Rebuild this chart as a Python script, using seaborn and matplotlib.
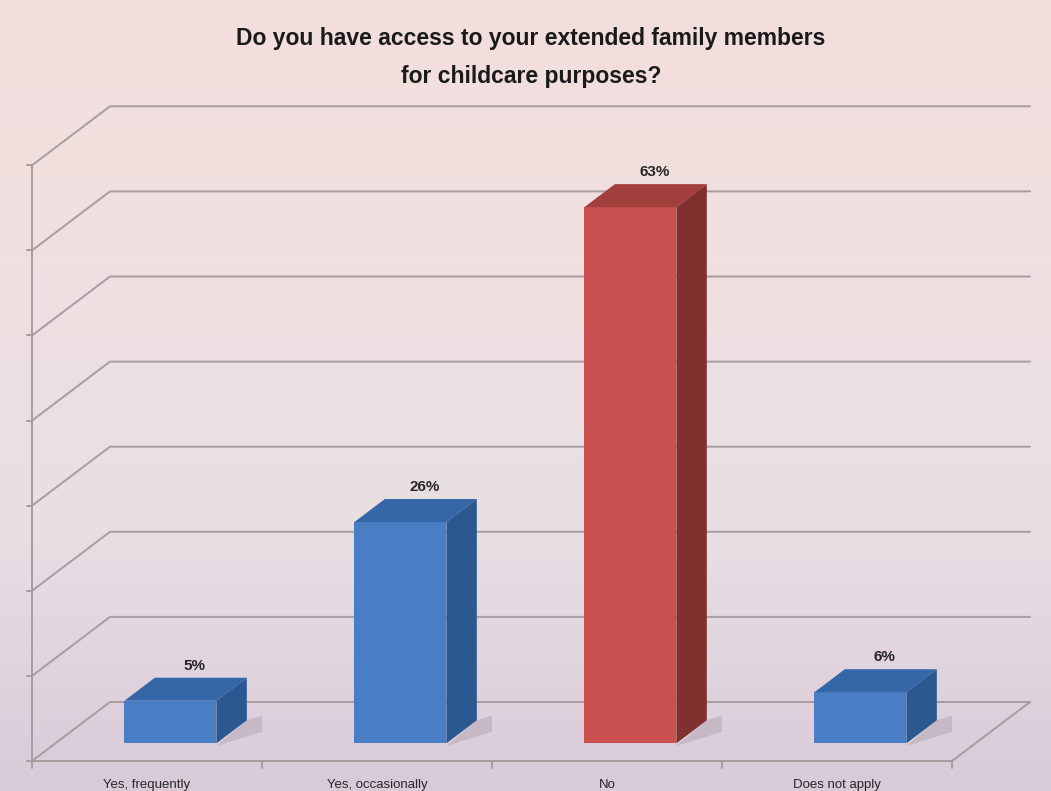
import numpy as np
import matplotlib
matplotlib.use("Agg")
import matplotlib.pyplot as plt
from matplotlib.patches import Polygon
from matplotlib.colors import LinearSegmentedColormap
import seaborn as sns

# Survey answers and shares (percent)
categories = ["Yes, frequently", "Yes, occasionally", "No", "Does not apply"]
values = [5, 26, 63, 6]
value_labels = ["5%", "26%", "63%", "6%"]
title_lines = ["Do you have access to your extended family members",
               "for childcare purposes?"]
grid_levels = [0, 10, 20, 30, 40, 50, 60, 70]

# Face colours: front, top, side
front_colors = ["#4a7ec4", "#4a7ec4", "#c9504e", "#4a7ec4"]
top_colors = ["#3566a8", "#3566a8", "#a33f3c", "#3566a8"]
side_colors = ["#2b5890", "#2b5890", "#80302f", "#2b5890"]

sns.set_theme(style="white")
plt.rcParams["font.family"] = ["Liberation Sans", "DejaVu Sans"]

W, H = 1051, 791
fig = plt.figure(figsize=(W / 100, H / 100), dpi=100)
ax = fig.add_axes([0, 0, 1, 1])

# Oblique projection: one category = 230 px, 1 % = 8.51 px,
# full floor depth shifts by (78 px, -59 px); bars stand at depth 0.3
SX, SY = 230.0, 8.51
DX, DY = 78.0 / SX, 59.0 / SY
Z_BAR, BAR_DEPTH = 0.30, 0.39
X0_PX, Y0_PX = 170.4, 743.3   # pixel position of category 0, 0 % on the bar plane


def proj(c, p, z):
    return c + (z - Z_BAR) * DX, p + (z - Z_BAR) * DY


xlim = (-X0_PX / SX, (W - X0_PX) / SX)
ylim = ((Y0_PX - H) / SY, Y0_PX / SY)

# Background gradient
bg = LinearSegmentedColormap.from_list(
    "bg", ["#f3dedd", "#f0e0e0", "#e8dfe4", "#d9cad8"])
grad = np.linspace(0, 1, 256).reshape(-1, 1)
ax.imshow(grad, cmap=bg, aspect="auto", extent=(xlim[0], xlim[1], ylim[0], ylim[1]),
          origin="upper", zorder=0)

grid_kw = dict(color="#a89ca0", lw=1.4, zorder=1, solid_capstyle="round")
for g in grid_levels:
    a = proj(-0.5, g, 0)
    b = proj(-0.5, g, 1)
    c = proj(3.5, g, 1)
    ax.plot([a[0], b[0], c[0]], [a[1], b[1], c[1]], **grid_kw)
    t = proj(-0.522, g, 0)
    ax.plot([t[0], a[0]], [t[1], a[1]], **grid_kw)

# front axis, floor front edge, floor right edge
pts = [proj(-0.5, 70, 0), proj(-0.5, 0, 0), proj(3.5, 0, 0), proj(3.5, 0, 1)]
ax.plot([p[0] for p in pts], [p[1] for p in pts], **grid_kw)
for k in range(5):
    a = proj(-0.5 + k, 0, 0)
    b = proj(-0.5 + k, -0.8, 0)
    ax.plot([a[0], b[0]], [a[1], b[1]], **grid_kw)

# Front faces of the bars
sns.barplot(x=categories, y=values, hue=categories, palette=front_colors,
            width=0.4, saturation=1, legend=False, ax=ax, zorder=3)

dx, dy = BAR_DEPTH * DX, BAR_DEPTH * DY
for i, patch in enumerate(ax.patches):
    x, w, h = patch.get_x(), patch.get_width(), patch.get_height()
    patch.set_edgecolor("none")
    # soft shadow on the floor
    sh = Polygon([(x + w, -0.3), (x + w + dx * 1.5, dy * 0.5),
                  (x + w + dx * 1.5, dy * 1.2), (x + w + dx, dy)],
                 closed=True, facecolor="#9e8f9c", alpha=0.35, edgecolor="none", zorder=2)
    ax.add_patch(sh)
    top = Polygon([(x, h), (x + dx, h + dy), (x + w + dx, h + dy), (x + w, h)],
                  closed=True, facecolor=top_colors[i], edgecolor="none", zorder=3)
    side = Polygon([(x + w, 0), (x + w + dx, dy), (x + w + dx, h + dy), (x + w, h)],
                   closed=True, facecolor=side_colors[i], edgecolor="none", zorder=3)
    ax.add_patch(top)
    ax.add_patch(side)
    ax.text(x + w / 2 + dx * 0.8, h + dy + 0.6, value_labels[i],
            ha="center", va="bottom", fontsize=11, fontweight="bold",
            color="#262626", zorder=4)

for i, cat in enumerate(categories):
    px, py = proj(i, -2.8, 0)
    ax.text(px, py, cat, ha="center", va="center", fontsize=9.5, color="#262626", zorder=4)

ax.set_xlim(*xlim)
ax.set_ylim(*ylim)
ax.set_axis_off()

fig.text(531 / W, 1 - 39 / H, title_lines[0], ha="center", va="center",
         fontsize=16.5, fontweight="bold", color="#1a1a1a")
fig.text(531 / W, 1 - 76 / H, title_lines[1], ha="center", va="center",
         fontsize=16.5, fontweight="bold", color="#1a1a1a")

fig.savefig("out.png", dpi=100)
